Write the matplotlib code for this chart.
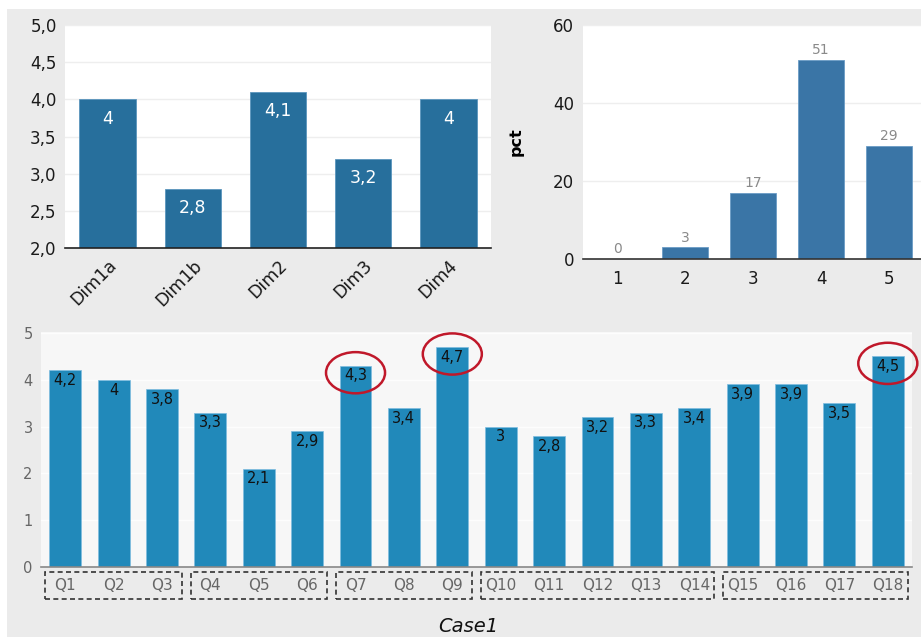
import matplotlib
matplotlib.use('Agg')
import matplotlib.pyplot as plt
from matplotlib.patches import Rectangle, Ellipse
from matplotlib.ticker import FuncFormatter
import matplotlib.transforms as mtransforms

plt.rcParams['font.family'] = ['DejaVu Sans']

# top left: dimension means
dims = ['Dim1a', 'Dim1b', 'Dim2', 'Dim3', 'Dim4']
dim_vals = [4.0, 2.8, 4.1, 3.2, 4.0]

# top right: answer distribution
pct_cats = ['1', '2', '3', '4', '5']
pct_vals = [0, 3, 17, 51, 29]

# bottom: per question
q_labels = ['Q%d' % i for i in range(1, 19)]
q_vals = [4.2, 4.0, 3.8, 3.3, 2.1, 2.9, 4.3, 3.4, 4.7,
          3.0, 2.8, 3.2, 3.3, 3.4, 3.9, 3.9, 3.5, 4.5]
q_groups = [('Q1', 'Q3'), ('Q4', 'Q6'), ('Q7', 'Q9'), ('Q10', 'Q14'), ('Q15', 'Q18')]
q_marked = ['Q7', 'Q9', 'Q18']
case_name = 'Case1'


def comma(v, pos=None, dec=1):
    return ('%.*f' % (dec, v)).replace('.', ',')


def short(v):
    s = ('%g' % v).replace('.', ',')
    return s


W, H = 921, 638
fig = plt.figure(figsize=(W / 100, H / 100), dpi=100)
fig.patch.set_facecolor('white')
fig.patches.append(Rectangle((7 / W, 1 / H), 1, 1 - 10 / H, transform=fig.transFigure,
                             facecolor='#ebebeb', edgecolor='none', zorder=-10))

GRID = '#eeeeee'

# ---- top left
ax1 = fig.add_axes([65 / W, 1 - 248 / H, 426 / W, 223 / H])
ax1.set_facecolor('white')
x = range(len(dims))
ax1.bar(x, dim_vals, width=0.66, bottom=0, color='#276f9c', edgecolor='#5b95bd', linewidth=0.6, zorder=3)
ax1.set_ylim(2.0, 5.0)
ax1.set_xlim(-0.5, len(dims) - 0.5)
ax1.set_yticks([2.0, 2.5, 3.0, 3.5, 4.0, 4.5, 5.0])
ax1.yaxis.set_major_formatter(FuncFormatter(comma))
ax1.set_xticks(list(x))
ax1.set_xticklabels(dims, rotation=45, ha='right', rotation_mode='anchor', fontsize=12.5)
ax1.tick_params(axis='y', labelsize=12)
ax1.tick_params(axis='both', length=0, colors='#1a1a1a')
ax1.tick_params(axis='y', pad=6)
ax1.tick_params(axis='x', pad=6)
ax1.grid(axis='y', color=GRID, linewidth=1, zorder=0)
for s in ['top', 'right', 'left']:
    ax1.spines[s].set_visible(False)
ax1.spines['bottom'].set_color('#222222')
ax1.spines['bottom'].set_linewidth(1.2)
ax1.spines['bottom'].set_zorder(4)
for i, v in enumerate(dim_vals):
    ax1.annotate(short(v), (i, v), xytext=(0, -14), textcoords='offset points',
                 ha='center', va='center', color='white', fontsize=12.5, zorder=5)

# ---- top right
ax2 = fig.add_axes([583 / W, 1 - 259 / H, 340 / W, 234 / H])
ax2.set_facecolor('white')
x2 = range(len(pct_cats))
ax2.bar(x2, pct_vals, width=0.67, color='#3a75a6', edgecolor='#6a9cc6', linewidth=0.6, zorder=3)
ax2.set_ylim(0, 60)
ax2.set_xlim(-0.5, len(pct_cats) - 0.5)
ax2.set_yticks([0, 20, 40, 60])
ax2.set_xticks(list(x2))
ax2.set_xticklabels(pct_cats)
ax2.tick_params(axis='both', length=0, labelsize=12, colors='#1a1a1a')
ax2.tick_params(axis='y', pad=6.5)
ax2.tick_params(axis='x', pad=8)
ax2.grid(axis='y', color=GRID, linewidth=1, zorder=0)
for s in ['top', 'right', 'left']:
    ax2.spines[s].set_visible(False)
ax2.spines['bottom'].set_color('#333333')
ax2.spines['bottom'].set_linewidth(1.2)
ax2.spines['bottom'].set_zorder(4)
ax2.set_ylabel('pct', fontsize=11.5, fontweight='bold', labelpad=21)
for i, v in enumerate(pct_vals):
    ax2.annotate('%d' % v, (i, v), xytext=(0, 2), textcoords='offset points',
                 ha='center', va='bottom', color='#8a8a8a', fontsize=10)

# ---- bottom
ax3 = fig.add_axes([41 / W, 1 - 567 / H, 871 / W, 235 / H])
ax3.set_facecolor('#f7f7f7')
x3 = list(range(len(q_labels)))
ax3.bar(x3, q_vals, width=0.66, color='#2189ba', edgecolor='#7fbde0', linewidth=0.5, zorder=3)
ax3.set_ylim(0, 5.02)
ax3.set_xlim(-0.5, len(q_labels) - 0.5)
ax3.set_yticks([0, 1, 2, 3, 4, 5])
ax3.set_xticks(x3)
ax3.set_xticklabels(q_labels, fontsize=11)
ax3.tick_params(axis='y', labelsize=10.5)
ax3.tick_params(axis='both', length=0, colors='#666666')
ax3.tick_params(axis='y', pad=6)
ax3.tick_params(axis='x', pad=8)
ax3.grid(axis='y', color='#fdfdfd', linewidth=1, zorder=0)
for s in ['top', 'right', 'left']:
    ax3.spines[s].set_visible(False)
ax3.spines['bottom'].set_color('#888888')
ax3.spines['bottom'].set_linewidth(1.2)
ax3.spines['bottom'].set_zorder(4)
for i, v in enumerate(q_vals):
    ax3.annotate(short(v), (i, v), xytext=(0, -2), textcoords='offset points',
                 ha='center', va='top', color='#111111', fontsize=10.5, zorder=5)

# dashed group boxes under the tick labels
trans = mtransforms.blended_transform_factory(ax3.transData, ax3.transAxes)
for a, b in q_groups:
    i0, i1 = q_labels.index(a), q_labels.index(b)
    ax3.add_patch(Rectangle((i0 - 0.41, -0.136), (i1 - i0) + 0.82, 0.115,
                            transform=trans, fill=False, edgecolor='#333333',
                            linewidth=1.2, linestyle=(0, (3, 2)), clip_on=False))

# red circles on highlighted questions
for q in q_marked:
    i = q_labels.index(q)
    ax3.add_patch(Ellipse((i, q_vals[i] - 0.15), 1.22, 0.88, fill=False,
                          edgecolor='#c0182a', linewidth=1.8, zorder=6, clip_on=False))

fig.text(468 / W, 1 - 626 / H, case_name, ha='center', va='center',
         fontsize=14, style='italic', color='#111111')

fig.savefig('out.png', dpi=100, facecolor=fig.get_facecolor())
